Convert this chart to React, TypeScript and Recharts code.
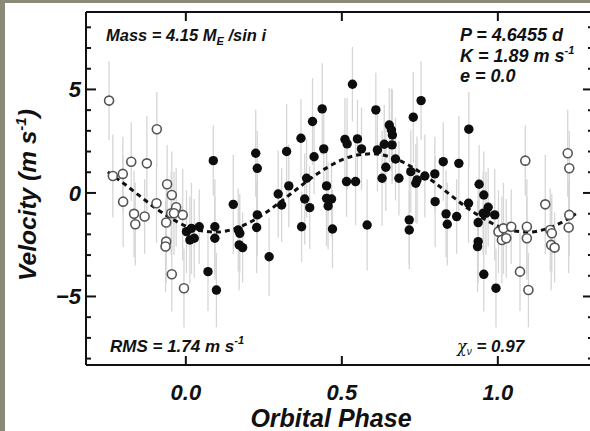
import React from "react";
import { ComposedChart, XAxis, YAxis, Scatter, Line, ErrorBar } from "recharts";

// orbital phase and radial velocity (m/s) of each measurement, phase 0..1
const phase = [
  0.002, 0.018, 0.043, 0.013, 0.027, 0.071, 0.088, 0.093, 0.093, 0.098,
  0.152, 0.168, 0.173, 0.171, 0.182, 0.224, 0.229, 0.229, 0.227, 0.267,
  0.296, 0.307, 0.323, 0.33, 0.369, 0.371, 0.381, 0.387, 0.397, 0.406,
  0.411, 0.437, 0.442, 0.451, 0.451, 0.467, 0.456, 0.47, 0.51, 0.517,
  0.515, 0.534, 0.544, 0.55, 0.563, 0.581, 0.609, 0.614, 0.629, 0.636,
  0.641, 0.652, 0.659, 0.661, 0.662, 0.672, 0.683, 0.716, 0.716, 0.721,
  0.729, 0.737, 0.741, 0.754, 0.766, 0.798, 0.799, 0.825, 0.834, 0.838,
  0.868, 0.875, 0.906, 0.907, 0.937, 0.937, 0.935, 0.94, 0.953, 0.955,
  0.955, 0.969, 0.99, 0.994, 0.962,
];
const velocity = [
  -1.87, -1.71, -1.63, -2.27, -2.19, -3.8, 1.56, -1.63, -2.19, -4.69,
  -0.55, -1.79, -1.95, -2.51, -2.64, 1.92, 1.19, -1.06, -1.67, -3.08,
  -0.05, -0.58, 2.0, 0.34, 2.64, -1.63, -0.29, 0.71, -0.71, 3.45,
  1.75, 4.06, 2.13, 0.34, -0.26, -0.29, -0.63, -1.74, 2.59, 2.37,
  0.55, 5.25, 0.55, 2.61, 2.13, -1.55, 4.01, 2.08, 0.71, 2.35,
  1.24, 3.28, 3.04, 2.32, 2.8, 1.64, 0.71, -1.3, -1.79, 1.03,
  3.66, 0.47, 0.63, 4.46, 0.82, 0.92, -0.42, 1.51, -1.01, -1.51,
  -1.14, 1.43, -0.5, 3.08, -1.43, -2.35, -2.59, 0.42, -0.98, -0.1,
  -3.93, -0.69, -1.06, -4.6, -0.98,
];
const sigma = [
  2.0, 2.2, 1.8, 2.1, 1.9, 1.9, 1.7, 2.3, 2.0, 1.8,
  2.4, 2.0, 1.9, 2.2, 1.7, 2.1, 1.8, 2.0, 2.2, 1.9,
  2.1, 1.8, 2.3, 2.0, 1.9, 1.7, 2.2, 1.9, 2.0, 2.1,
  1.8, 2.2, 1.9, 2.0, 2.3, 1.8, 2.1, 1.9, 2.0, 2.2,
  1.7, 1.8, 2.1, 1.9, 2.0, 2.2, 1.8, 2.0, 2.3, 1.9,
  2.1, 1.8, 2.0, 1.9, 2.2, 2.0, 1.8, 2.1, 1.9, 2.0,
  2.2, 1.9, 2.1, 1.9, 2.0, 1.8, 2.2, 1.9, 2.1, 2.0,
  1.8, 2.3, 1.9, 1.8, 2.1, 2.0, 2.2, 1.9, 2.0, 2.1,
  1.8, 1.9, 2.2, 1.9, 2.0,
];

// fitted orbit
const curvePhase = [
  -0.25, -0.2, -0.15, -0.1, -0.05, 0.0, 0.05, 0.1, 0.15, 0.2, 0.25,
  0.3, 0.35, 0.4, 0.45, 0.5, 0.55, 0.6, 0.65, 0.7, 0.75,
  0.8, 0.85, 0.9, 0.95, 1.0, 1.05, 1.1, 1.15, 1.2, 1.25,
];
const curveVelocity = [
  1.01, 0.47, -0.12, -0.7, -1.2, -1.6, -1.83, -1.89, -1.76, -1.46, -1.01,
  -0.47, 0.12, 0.7, 1.2, 1.6, 1.83, 1.89, 1.76, 1.46, 1.01,
  0.47, -0.12, -0.7, -1.2, -1.6, -1.83, -1.89, -1.76, -1.46, -1.01,
];

const xTicks = [0, 0.5, 1.0];
const xTickLabels = ["0.0", "0.5", "1.0"];
const yTicks = [-8, -7, -6, -5, -4, -3, -2, -1, 0, 1, 2, 3, 4, 5, 6, 7, 8];
const yTickLabels: Record<number, string> = { [-5]: "\u22125", 0: "0", 5: "5" };

const filled = phase.map((p, i) => ({ phase: p, v: velocity[i], err: sigma[i] }));
// points repeated one cycle earlier / later, drawn as open circles
const repeated = [
  ...filled.filter((d) => d.phase >= 0.75).map((d) => ({ ...d, phase: d.phase - 1 })),
  ...filled.filter((d) => d.phase <= 0.25).map((d) => ({ ...d, phase: d.phase + 1 })),
];
const allPoints = [...filled, ...repeated];
const curve = curvePhase.map((p, i) => ({ phase: p, v: curveVelocity[i] }));

const FONT = "'Liberation Sans', Arial, Helvetica, sans-serif";
const INK = "#111";

const LeftTick = ({ x, y, payload }: any) => {
  const major = payload.value % 5 === 0;
  return (
    <g>
      <line x1={x} x2={x + (major ? 10 : 5)} y1={y} y2={y} stroke={INK} strokeWidth={2} />
      {major && (
        <text x={x - 5} y={y + 8} textAnchor="end" fontFamily={FONT} fontWeight="bold"
          fontStyle="italic" fontSize={22} fill={INK}>
          {yTickLabels[payload.value]}
        </text>
      )}
    </g>
  );
};

const RightTick = ({ x, y, payload }: any) => {
  const major = payload.value % 5 === 0;
  return <line x1={x} x2={x - (major ? 10 : 5)} y1={y} y2={y} stroke={INK} strokeWidth={2} />;
};

const BottomTick = ({ x, y, payload }: any) => (
  <g>
    <line x1={x} x2={x} y1={y} y2={y - 9} stroke={INK} strokeWidth={2} />
    <text x={x} y={y + 35} textAnchor="middle" fontFamily={FONT} fontWeight="bold"
      fontStyle="italic" fontSize={22} fill={INK}>
      {xTickLabels[xTicks.indexOf(payload.value)]}
    </text>
  </g>
);

const TopTick = ({ x, y }: any) => (
  <line x1={x} x2={x} y1={y} y2={y + 9} stroke={INK} strokeWidth={2} />
);

const OpenDot = ({ cx, cy }: any) => (
  <circle cx={cx} cy={cy} r={4.5} fill="#fff" stroke="#555" strokeWidth={1.6} />
);
const FilledDot = ({ cx, cy }: any) => <circle cx={cx} cy={cy} r={4.7} fill="#0d0d0d" />;

const txt = {
  fontFamily: FONT,
  fontWeight: "bold" as const,
  fontStyle: "italic" as const,
  fill: INK,
};

export default function App() {
  return (
    <div style={{ position: "fixed", left: 0, top: 0, width: 590, height: 431, overflow: "hidden", background: "#8b8978" }}>
      <div style={{ position: "absolute", left: 5, top: 3, width: 585, height: 428, background: "#fff" }} />
      <div style={{ position: "absolute", left: 0, top: 0 }}>
        <ComposedChart width={600} height={431} margin={{ top: 11, right: 6, bottom: 0, left: 0 }}>
          <XAxis xAxisId="bottom" dataKey="phase" type="number" domain={[-0.32, 1.305]} allowDataOverflow
            ticks={xTicks} interval={0} tickSize={0} tickMargin={0} height={66}
            axisLine={{ stroke: INK, strokeWidth: 2 }} tickLine={false} tick={<BottomTick />} />
          <XAxis xAxisId="top" orientation="top" dataKey="phase" type="number" domain={[-0.32, 1.305]}
            allowDataOverflow ticks={xTicks} interval={0} tickSize={0} tickMargin={0} height={1}
            axisLine={{ stroke: INK, strokeWidth: 2 }} tickLine={false} tick={<TopTick />} />
          <YAxis yAxisId="left" dataKey="v" type="number" domain={[-8.31, 8.74]} allowDataOverflow
            ticks={yTicks} interval={0} tickSize={0} tickMargin={0} width={86}
            axisLine={{ stroke: INK, strokeWidth: 2 }} tickLine={false} tick={<LeftTick />} />
          <YAxis yAxisId="right" orientation="right" dataKey="v" type="number" domain={[-8.31, 8.74]}
            allowDataOverflow ticks={yTicks} interval={0} tickSize={0} tickMargin={0} width={1}
            axisLine={{ stroke: INK, strokeWidth: 2 }} tickLine={false} tick={<RightTick />} />

          <Scatter xAxisId="bottom" yAxisId="left" data={allPoints} shape={() => <g />} isAnimationActive={false}>
            <ErrorBar dataKey="err" direction="y" width={0} stroke="#d6d6d6" strokeWidth={1.3} isAnimationActive={false} />
          </Scatter>
          <Scatter xAxisId="bottom" yAxisId="left" data={repeated} shape={<OpenDot />} isAnimationActive={false} />
          <Scatter xAxisId="bottom" yAxisId="left" data={filled} shape={<FilledDot />} isAnimationActive={false} />
          <Line xAxisId="bottom" yAxisId="left" data={curve} dataKey="v" type="monotone" stroke={INK}
            strokeWidth={3} strokeDasharray="5 4" dot={false} activeDot={false} isAnimationActive={false} />
        </ComposedChart>
      </div>
      <svg width={590} height={431} style={{ position: "absolute", left: 0, top: 0, pointerEvents: "none" }}>
        <text x={106} y={41} fontSize={16.5} {...txt}>
          Mass = 4.15 M<tspan fontSize={11} dy={4}>E</tspan>
          <tspan dy={-4}> /sin i</tspan>
        </text>
        <text x={460} y={41} fontSize={18} {...txt}>P = 4.6455 d</text>
        <text x={460} y={62} fontSize={18} {...txt}>
          K = 1.89 m s<tspan fontSize={11} dy={-8}>-1</tspan>
        </text>
        <text x={460} y={82} fontSize={18} {...txt}>e = 0.0</text>
        <text x={110} y={352} fontSize={17} {...txt}>
          RMS = 1.74 m s<tspan fontSize={11} dy={-8}>-1</tspan>
        </text>
        <text x={457} y={352} fontSize={17} {...txt}>
          <tspan fontWeight="normal" fontSize={16} fontFamily="'DejaVu Serif', serif">χ</tspan>
          <tspan fontSize={10} dy={3} fontWeight="normal">ν</tspan>
          <tspan dy={-3}> = 0.97</tspan>
        </text>
        <text x={331} y={427} fontSize={25} textAnchor="middle" {...txt}>Orbital Phase</text>
        <text transform="translate(36,195) rotate(-90)" fontSize={24.5} textAnchor="middle" {...txt}>
          Velocity  (m s<tspan fontSize={15} dy={-10}>-1</tspan>
          <tspan dy={10}>)</tspan>
        </text>
      </svg>
    </div>
  );
}
